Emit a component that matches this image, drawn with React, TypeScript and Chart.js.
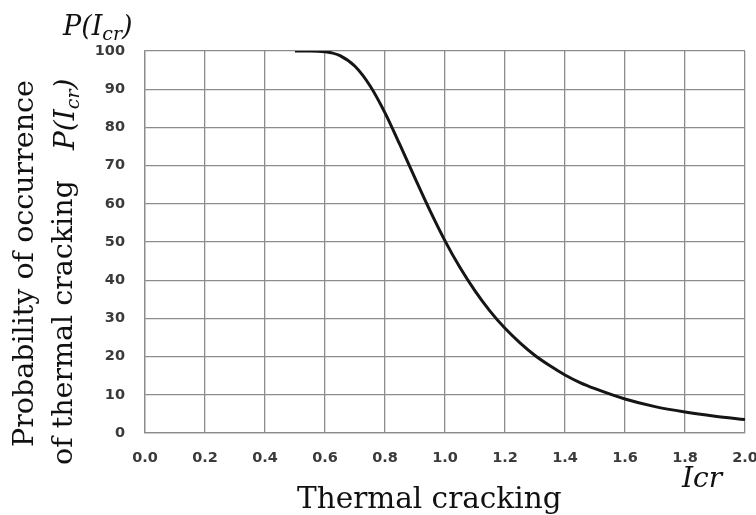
import React, { useEffect, useRef } from "react";
import { Chart, registerables } from "chart.js";

Chart.register(...registerables);

// Index of thermal cracking (x) and probability of occurrence in % (y)
const icr = [0.5, 0.55, 0.6, 0.62, 0.65, 0.7, 0.75, 0.8, 0.85, 0.9, 0.95, 1.0, 1.05, 1.1, 1.15, 1.2, 1.25, 1.3, 1.35, 1.4, 1.45, 1.5, 1.6, 1.7, 1.8, 1.9, 2.0];
const probability = [100, 99.99, 99.8, 99.56, 98.8, 96.0, 90.9, 83.8, 75.4, 66.7, 58.2, 50.3, 43.3, 37.2, 31.9, 27.4, 23.6, 20.3, 17.6, 15.2, 13.2, 11.6, 8.9, 6.9, 5.5, 4.4, 3.5];

const xTicks = ["0.0", "0.2", "0.4", "0.6", "0.8", "1.0", "1.2", "1.4", "1.6", "1.8", "2.0"];
const yTicks = ["0", "10", "20", "30", "40", "50", "60", "70", "80", "90", "100"];

const yTitleLine1 = "Probability of occurrence";
const yTitleLine2 = "of thermal cracking";
const xTitle = "Thermal cracking";
const xSymbol = "Icr";

const SERIF = "'DejaVu Serif', serif";

function drawPIcr(ctx: CanvasRenderingContext2D, x: number, y: number, big: number, small: number) {
  ctx.font = `italic ${big}px ${SERIF}`;
  let cx = x;
  ctx.fillText("P(I", cx, y);
  cx += ctx.measureText("P(I").width;
  ctx.font = `italic ${small}px ${SERIF}`;
  ctx.fillText("cr", cx, y + big * 0.18);
  cx += ctx.measureText("cr").width;
  ctx.font = `italic ${big}px ${SERIF}`;
  ctx.fillText(")", cx, y);
}

const labelsPlugin = {
  id: "extraLabels",
  afterDraw(chart: any) {
    const ctx: CanvasRenderingContext2D = chart.ctx;
    ctx.save();
    ctx.fillStyle = "#111";
    ctx.textAlign = "left";
    ctx.textBaseline = "alphabetic";

    // top-left symbol
    drawPIcr(ctx, 63, 35, 27, 19);

    // rotated y title
    ctx.save();
    ctx.translate(33, 447);
    ctx.rotate(-Math.PI / 2);
    ctx.font = `28.5px ${SERIF}`;
    ctx.fillText(yTitleLine1, 0, 0);
    ctx.restore();

    ctx.save();
    ctx.translate(72, 465);
    ctx.rotate(-Math.PI / 2);
    ctx.font = `28.5px ${SERIF}`;
    ctx.fillText(yTitleLine2, 0, 0);
    ctx.restore();

    ctx.save();
    ctx.translate(74, 150);
    ctx.rotate(-Math.PI / 2);
    drawPIcr(ctx, 0, 0, 28, 19);
    ctx.restore();

    // x title
    ctx.font = `29.5px ${SERIF}`;
    ctx.fillText(xTitle, 297, 508);
    ctx.font = `italic 28px ${SERIF}`;
    ctx.fillText(xSymbol, 682, 487);

    ctx.restore();
  },
};

export default function App() {
  const ref = useRef<HTMLCanvasElement | null>(null);

  useEffect(() => {
    if (!ref.current) return;
    const points = icr.map((x, i) => ({ x, y: probability[i] }));
    const tickFont = { family: "'DejaVu Sans', sans-serif", size: 14.5, weight: "bold" as const };
    const gridColor = "#8c8c8c";
    const chart = new Chart(ref.current, {
      type: "scatter",
      data: {
        datasets: [
          {
            data: points,
            showLine: true,
            borderColor: "#151515",
            borderWidth: 3,
            pointRadius: 0,
            cubicInterpolationMode: "monotone",
            fill: false,
          },
        ],
      },
      options: {
        animation: false,
        responsive: false,
        devicePixelRatio: 1,
        layout: { padding: { left: 0, top: 51, right: 11, bottom: 0 } },
        plugins: { legend: { display: false }, tooltip: { enabled: false } },
        scales: {
          x: {
            type: "linear",
            min: 0,
            max: 2,
            ticks: {
              stepSize: 0.2,
              padding: 17,
              color: "#3a3a3a",
              font: tickFont,
              callback: (v: any) => {
                const i = Math.round(Number(v) / 0.2);
                return xTicks[i] ?? "";
              },
            },
            grid: { color: gridColor, lineWidth: 1.3, drawTicks: false },
            border: { color: gridColor, width: 1.3 },
            afterFit: (s: any) => {
              s.height = 82;
              s.paddingLeft = 0;
              s.paddingRight = 0;
            },
          },
          y: {
            min: 0,
            max: 100,
            ticks: {
              stepSize: 10,
              padding: 20,
              color: "#3a3a3a",
              font: tickFont,
              callback: (v: any) => {
                const i = Math.round(Number(v) / 10);
                return yTicks[i] ?? "";
              },
            },
            grid: { color: gridColor, lineWidth: 1.3, drawTicks: false },
            border: { color: gridColor, width: 1.3 },
            afterFit: (s: any) => {
              s.width = 145;
              s.paddingTop = 0;
              s.paddingBottom = 0;
            },
          },
        },
      },
      plugins: [labelsPlugin],
    });
    return () => chart.destroy();
  }, []);

  return (
    <div style={{ position: "fixed", left: 0, top: 0, width: 756, height: 515, background: "#fff" }}>
      <canvas ref={ref} width={756} height={515} style={{ width: 756, height: 515 }} />
    </div>
  );
}
